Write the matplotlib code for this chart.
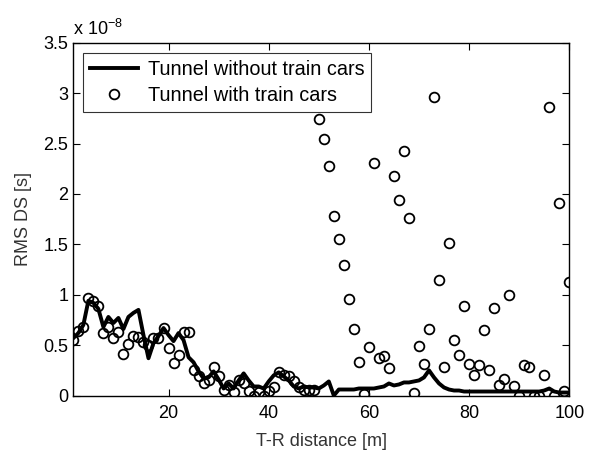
import numpy as np
import matplotlib
matplotlib.use('Agg')
import matplotlib.pyplot as plt
from matplotlib.ticker import FuncFormatter

plt.rcParams['font.family'] = ['Liberation Sans', 'DejaVu Sans']

# T-R distance [m]
distance = np.arange(1, 101)

# RMS delay spread, units of 1e-8 s
without_cars = [0.57, 0.62, 0.70, 0.94, 0.92, 0.86, 0.68, 0.78, 0.72, 0.77,
                0.66, 0.78, 0.82, 0.85, 0.60, 0.37, 0.52, 0.59, 0.67, 0.60,
                0.54, 0.62, 0.55, 0.38, 0.33, 0.24, 0.17, 0.18, 0.24, 0.16,
                0.07, 0.12, 0.07, 0.15, 0.22, 0.15, 0.09, 0.09, 0.07, 0.14,
                0.20, 0.23, 0.19, 0.15, 0.09, 0.07, 0.09, 0.08, 0.08, 0.07,
                0.10, 0.14, 0.00, 0.06, 0.06, 0.06, 0.06, 0.07, 0.07, 0.07,
                0.07, 0.08, 0.09, 0.12, 0.10, 0.11, 0.13, 0.13, 0.14, 0.15,
                0.18, 0.25, 0.18, 0.12, 0.08, 0.06, 0.05, 0.05, 0.04, 0.04,
                0.04, 0.04, 0.04, 0.04, 0.04, 0.04, 0.04, 0.04, 0.04, 0.04,
                0.04, 0.04, 0.04, 0.04, 0.05, 0.07, 0.04, 0.03, 0.03, 0.03]

with_cars = [0.55, 0.64, 0.68, 0.97, 0.94, 0.89, 0.62, 0.68, 0.57, 0.63,
             0.41, 0.51, 0.59, 0.58, 0.53, 0.50, 0.57, 0.57, 0.67, 0.47,
             0.32, 0.40, 0.63, 0.63, 0.25, 0.19, 0.12, 0.15, 0.28, 0.19,
             0.06, 0.10, 0.04, 0.15, 0.12, 0.05, 0.00, 0.04, 0.00, 0.05,
             0.08, 0.23, 0.20, 0.19, 0.14, 0.08, 0.06, 0.06, 0.06, 2.74,
             2.55, 2.28, 1.78, 1.55, 1.30, 0.96, 0.66, 0.33, 0.02, 0.48,
             2.31, 0.37, 0.39, 0.27, 2.18, 1.94, 2.43, 1.76, 0.03, 0.49,
             0.31, 0.66, 2.96, 1.15, 0.28, 1.51, 0.55, 0.40, 0.89, 0.31,
             0.20, 0.30, 0.65, 0.25, 0.87, 0.10, 0.16, 1.00, 0.09, 0.00,
             0.30, 0.28, 0.00, 0.00, 0.20, 2.86, 0.00, 1.91, 0.05, 1.13]

scale = 1e-8
y_line = np.array(without_cars) * scale
y_pts = np.array(with_cars) * scale

fig = plt.figure(figsize=(5.89, 4.5), dpi=100)
ax = fig.add_axes([0.1245, 0.121, 0.842, 0.784])

ax.plot(distance, y_line, 'k-', lw=2.8, label='Tunnel without train cars')
ax.plot(distance, y_pts, 'o', ms=7, mfc='none', mec='k', mew=1.3,
        label='Tunnel with train cars')

ax.set_xlim([1, 100])
ax.set_ylim([0, 3.5e-8])
ax.set_xticks([20, 40, 60, 80, 100])
ax.set_yticks(np.arange(0, 3.51, 0.5) * scale)
ax.yaxis.set_major_formatter(FuncFormatter(lambda v, p: '%g' % round(v / scale, 2)))
ax.tick_params(direction='in', top=True, right=True, labelsize=13, length=5)
ax.tick_params(axis='x', pad=7)
for s in ax.spines.values():
    s.set_linewidth(1.0)

ax.text(0.0, 1.012, r'x 10$^{\mathregular{-8}}$', transform=ax.transAxes,
        fontsize=13, ha='left', va='bottom')

ax.set_xlabel('T-R distance [m]', fontsize=13, color='#333333', labelpad=8)
ax.set_ylabel('RMS DS [s]', fontsize=13, color='#333333', labelpad=8)

leg = ax.legend(loc='upper left', fontsize=14.3, frameon=True, fancybox=False,
                edgecolor='k', borderpad=0.35, handlelength=2.4,
                handletextpad=0.5, labelspacing=0.35, borderaxespad=0.5)
leg.get_frame().set_linewidth(0.8)

fig.savefig('out.png', dpi=100)
